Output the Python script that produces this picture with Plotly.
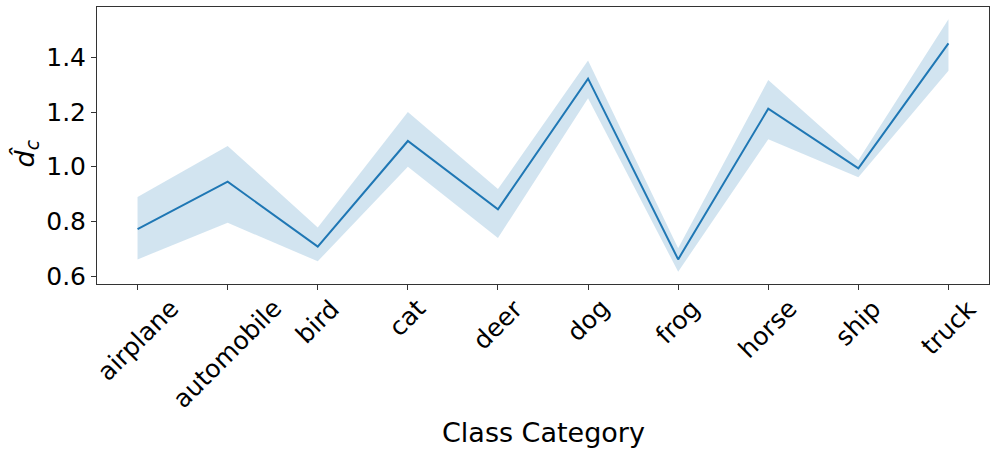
import plotly.graph_objects as go

categories = ["airplane", "automobile", "bird", "cat", "deer", "dog", "frog", "horse", "ship", "truck"]
mean_vals = [0.772, 0.945, 0.708, 1.094, 0.844, 1.322, 0.661, 1.212, 0.994, 1.451]
upper_vals = [0.889, 1.076, 0.778, 1.200, 0.918, 1.388, 0.702, 1.317, 1.024, 1.539]
lower_vals = [0.661, 0.795, 0.654, 1.000, 0.739, 1.250, 0.616, 1.100, 0.961, 1.351]
y_ticks = [0.6, 0.8, 1.0, 1.2, 1.4]

xs = list(range(len(categories)))
FONT = "DejaVu Sans"
BLUE = "#1f77b4"

fig = go.Figure()
fig.add_trace(go.Scatter(
    x=xs + xs[::-1], y=upper_vals + lower_vals[::-1],
    fill="toself", fillcolor="rgba(31,119,180,0.2)",
    line=dict(width=0), mode="lines", hoverinfo="skip", showlegend=False))
fig.add_trace(go.Scatter(
    x=xs, y=mean_vals, mode="lines",
    line=dict(color=BLUE, width=2), showlegend=False))

for i, c in enumerate(categories):
    fig.add_annotation(x=i, y=0, xref="x", yref="paper", text=c,
                       textangle=-45, xanchor="center", yanchor="top",
                       yshift=-7, showarrow=False,
                       font=dict(family=FONT, size=25, color="black"))

fig.add_annotation(x=0.5, y=0, xref="paper", yref="paper", text="Class Category",
                   xanchor="center", yanchor="middle", yshift=-148, showarrow=False,
                   font=dict(family=FONT, size=27, color="black"))

fig.add_annotation(x=0, y=0.5, xref="paper", yref="paper",
                   text="<i>d\u0302</i><sub><i>c</i></sub>", textangle=-90,
                   xanchor="center", yanchor="middle", xshift=-71, yshift=-8,
                   showarrow=False, font=dict(family=FONT, size=27, color="black"))

fig.update_layout(
    width=997, height=455,
    margin=dict(l=97, r=8, t=7, b=171, autoexpand=False),
    plot_bgcolor="white", paper_bgcolor="white",
    font=dict(family=FONT, size=25, color="black"),
)
fig.update_xaxes(range=[-0.45, 9.45], tickvals=xs, showticklabels=False,
                 ticks="outside", ticklen=5, tickwidth=1, tickcolor="#333",
                 showline=True, linecolor="#333", linewidth=1, mirror=True,
                 showgrid=False, zeroline=False, automargin=False)
fig.update_yaxes(range=[0.571, 1.584], tickvals=y_ticks,
                 ticktext=[f"{v:.1f}" for v in y_ticks],
                 ticks="outside", ticklen=5, tickwidth=1, tickcolor="#333",
                 showline=True, linecolor="#333", linewidth=1, mirror=True,
                 showgrid=False, zeroline=False, automargin=False,
                 tickfont=dict(family=FONT, size=25, color="black"))

fig.write_html("out.html", config={"displayModeBar": False},
               post_script="document.body.style.margin='0';")
